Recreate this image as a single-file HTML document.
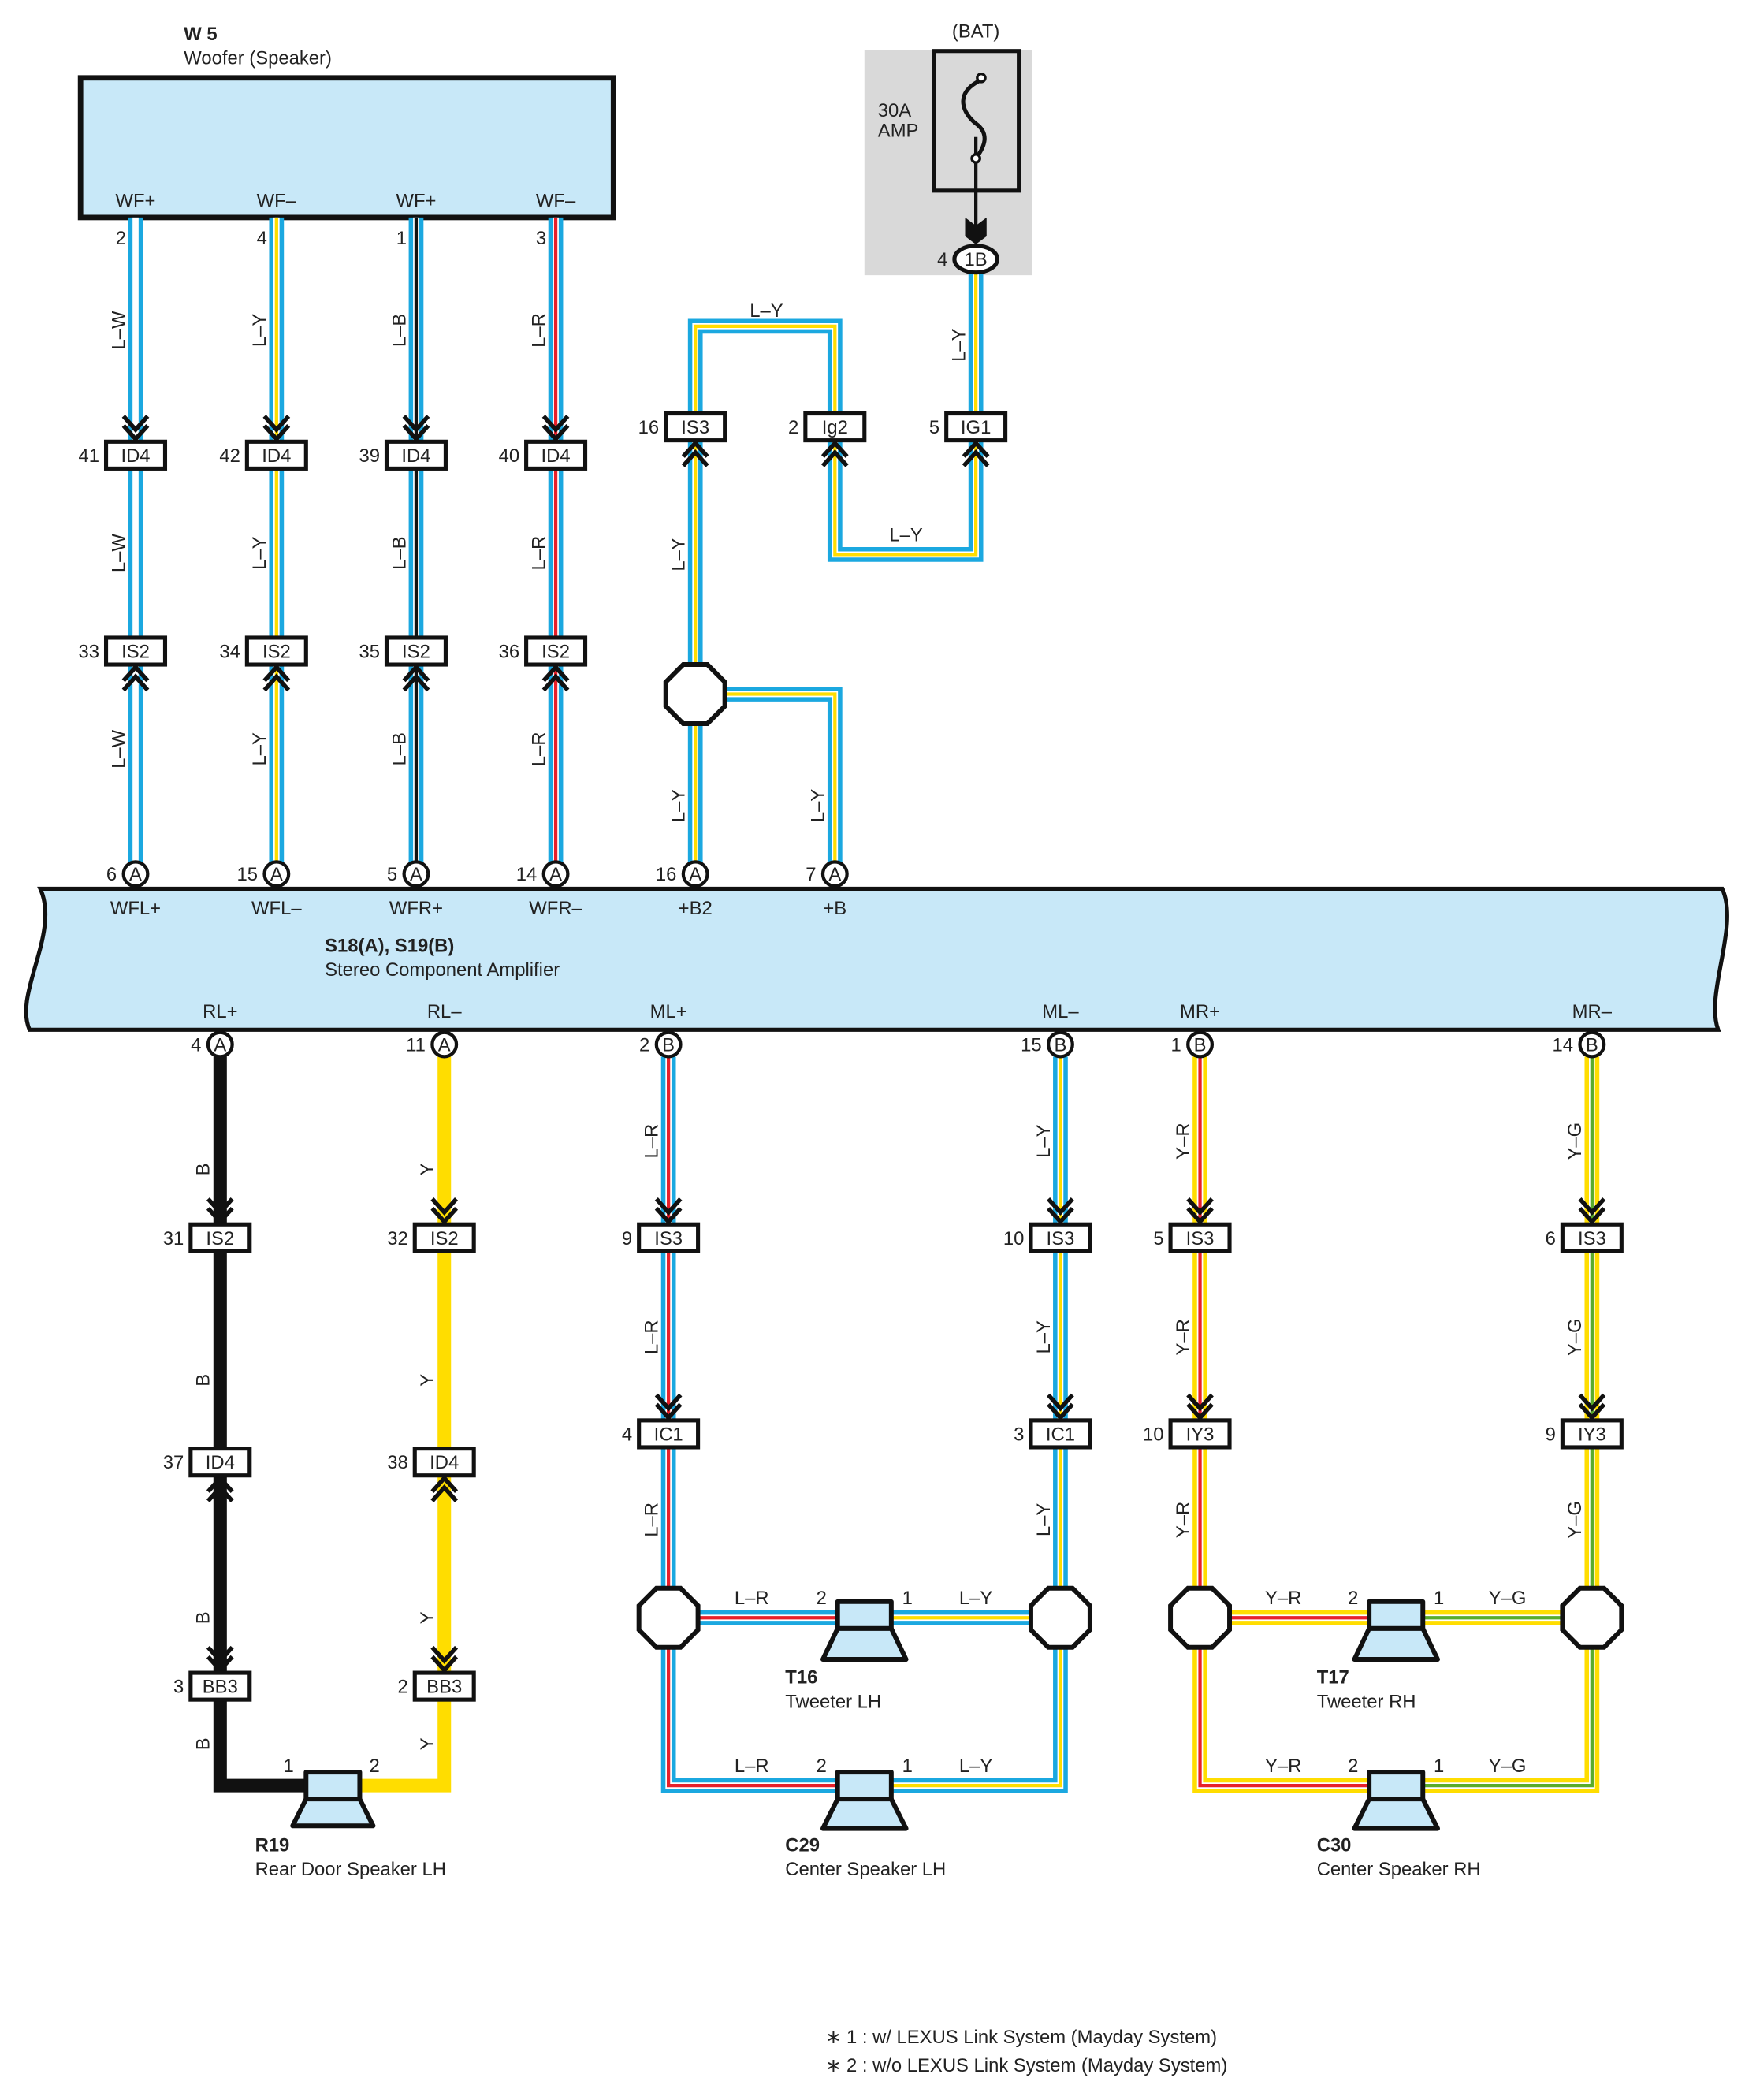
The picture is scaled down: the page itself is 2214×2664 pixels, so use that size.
<!DOCTYPE html>
<html><head><meta charset="utf-8"><style>
html,body{margin:0;padding:0;background:#fff}
svg{display:block}
text{font-family:"Liberation Sans",sans-serif;font-size:14px;fill:#222}
.o{fill:none;stroke:#1ba8e0;stroke-width:11;stroke-linejoin:miter}
.oy{fill:none;stroke:#ffdd00;stroke-width:11;stroke-linejoin:miter}
.w{fill:none;stroke:#fff;stroke-width:4.5;stroke-linejoin:miter}
.c{fill:none;stroke-width:2.5;stroke-linejoin:miter}
.bx{fill:#fff;stroke:#111;stroke-width:3}
.ch{fill:none;stroke:#111;stroke-width:3.2}
.oc{fill:#fff;stroke:#111;stroke-width:3.5}
.ci{fill:#fff;stroke:#111;stroke-width:2.5}
.sp{fill:#c8e8f8;stroke:#111;stroke-width:3.5;stroke-linejoin:round}
.m{text-anchor:middle}
.e{text-anchor:end}
.b{font-weight:bold}
</style></head><body>
<svg width="2214" height="2664" viewBox="0 0 1300 1564.2" preserveAspectRatio="none" xmlns="http://www.w3.org/2000/svg">
<defs>
<path id="dn" d="M-9,-17 L0,-7 L9,-17 M-9,-10 L0,0 L9,-10" class="ch"/>
<path id="up" d="M-9,17 L0,7 L9,17 M-9,10 L0,0 L9,10" class="ch"/>
<polygon id="oct" points="-9,-22 9,-22 22,-9 22,9 9,22 -9,22 -22,9 -22,-9" class="oc"/>
</defs>

<!-- Woofer -->
<text x="137" y="30" class="b">W 5</text>
<text x="137" y="48">Woofer (Speaker)</text>
<rect x="60" y="58" width="397" height="104" fill="#c8e8f8" stroke="#111" stroke-width="4"/>
<text x="101" y="154" class="m">WF+</text>
<text x="206" y="154" class="m">WF–</text>
<text x="310" y="154" class="m">WF+</text>
<text x="414" y="154" class="m">WF–</text>

<!-- BAT -->
<rect x="644" y="37" width="125" height="168" fill="#d9d9d9"/>
<text x="727" y="28" class="m">(BAT)</text>
<text x="654" y="87">30A</text>
<text x="654" y="102">AMP</text>
<rect x="696" y="38" width="63" height="104" fill="none" stroke="#111" stroke-width="3"/>
<path d="M727,102 V181" stroke="#111" stroke-width="2.5"/>
<path d="M730,60 C710,70 718,85 727,92 C738,100 733,110 727,118" fill="none" stroke="#111" stroke-width="3"/>
<circle cx="731" cy="58" r="3" fill="#fff" stroke="#111" stroke-width="2"/>
<circle cx="727" cy="118" r="3" fill="#fff" stroke="#111" stroke-width="2"/>
<path d="M719,162 L727,168 L735,162 L735,176 L727,182 L719,176 Z" fill="#111"/>

<!-- top wires -->
<g>
<path class="o" d="M101,162V651 M206,162V651 M310,162V651 M414,162V651"/>
<path class="w" d="M101,162V651 M206,162V651 M310,162V651 M414,162V651"/>
<path class="c" stroke="#ffdd00" d="M206,162V651"/>
<path class="c" stroke="#111" d="M310,162V651"/>
<path class="c" stroke="#e8202a" d="M414,162V651"/>
<path class="o" d="M727,200 V413 H622 V243 H518 V651 M518,517 H622 V651"/>
<path class="w" d="M727,200 V413 H622 V243 H518 V651 M518,517 H622 V651"/>
<path class="c" stroke="#ffdd00" d="M727,200 V413 H622 V243 H518 V651 M518,517 H622 V651"/>
</g>
<ellipse cx="727" cy="193" rx="16" ry="10" fill="#fff" stroke="#111" stroke-width="3"/>
<text x="727" y="198" class="m" font-size="13">1B</text>
<text x="706" y="198" class="e">4</text>

<!-- bottom wires -->
<path d="M164,787 V1330 H230" fill="none" stroke="#111" stroke-width="10"/>
<path d="M331,787 V1330 H262" fill="none" stroke="#ffdd00" stroke-width="10"/>
<path class="o" d="M498,787 V1330 H630 M498,1205 H630 M790,787 V1330 H660 M790,1205 H660"/>
<path class="oy" d="M894,787 V1330 H1030 M894,1205 H1030 M1186,787 V1330 H1050 M1186,1205 H1050"/>
<path class="w" d="M498,787 V1330 H630 M498,1205 H630 M790,787 V1330 H660 M790,1205 H660 M894,787 V1330 H1030 M894,1205 H1030 M1186,787 V1330 H1050 M1186,1205 H1050"/>
<path class="c" stroke="#e8202a" d="M498,787 V1330 H630 M498,1205 H630 M894,787 V1330 H1030 M894,1205 H1030"/>
<path class="c" stroke="#ffdd00" d="M790,787 V1330 H660 M790,1205 H660"/>
<path class="c" stroke="#5aac2a" d="M1186,787 V1330 H1050 M1186,1205 H1050"/>

<!-- Amplifier -->
<path d="M30,662 L1283,662 C1296,690 1270,740 1280,767 L22,767 C10,740 45,695 30,662 Z" fill="#c8e8f8" stroke="#111" stroke-width="3"/>
<text x="101" y="681" class="m">WFL+</text>
<text x="206" y="681" class="m">WFL–</text>
<text x="310" y="681" class="m">WFR+</text>
<text x="414" y="681" class="m">WFR–</text>
<text x="518" y="681" class="m">+B2</text>
<text x="622" y="681" class="m">+B</text>
<text x="242" y="709" class="b">S18(A), S19(B)</text>
<text x="242" y="727">Stereo Component Amplifier</text>
<text x="164" y="758" class="m">RL+</text>
<text x="331" y="758" class="m">RL–</text>
<text x="498" y="758" class="m">ML+</text>
<text x="790" y="758" class="m">ML–</text>
<text x="894" y="758" class="m">MR+</text>
<text x="1186" y="758" class="m">MR–</text>

<!-- amp connector circles -->
<g font-size="12">
<circle cx="101" cy="651" r="9" class="ci"/><text x="101" y="656" class="m" font-size="12">A</text><text x="87" y="656" class="e">6</text>
<circle cx="206" cy="651" r="9" class="ci"/><text x="206" y="656" class="m" font-size="12">A</text><text x="192" y="656" class="e">15</text>
<circle cx="310" cy="651" r="9" class="ci"/><text x="310" y="656" class="m" font-size="12">A</text><text x="296" y="656" class="e">5</text>
<circle cx="414" cy="651" r="9" class="ci"/><text x="414" y="656" class="m" font-size="12">A</text><text x="400" y="656" class="e">14</text>
<circle cx="518" cy="651" r="9" class="ci"/><text x="518" y="656" class="m" font-size="12">A</text><text x="504" y="656" class="e">16</text>
<circle cx="622" cy="651" r="9" class="ci"/><text x="622" y="656" class="m" font-size="12">A</text><text x="608" y="656" class="e">7</text>
<circle cx="164" cy="778" r="9" class="ci"/><text x="164" y="783" class="m" font-size="12">A</text><text x="150" y="783" class="e">4</text>
<circle cx="331" cy="778" r="9" class="ci"/><text x="331" y="783" class="m" font-size="12">A</text><text x="317" y="783" class="e">11</text>
<circle cx="498" cy="778" r="9" class="ci"/><text x="498" y="783" class="m" font-size="12">B</text><text x="484" y="783" class="e">2</text>
<circle cx="790" cy="778" r="9" class="ci"/><text x="790" y="783" class="m" font-size="12">B</text><text x="776" y="783" class="e">15</text>
<circle cx="894" cy="778" r="9" class="ci"/><text x="894" y="783" class="m" font-size="12">B</text><text x="880" y="783" class="e">1</text>
<circle cx="1186" cy="778" r="9" class="ci"/><text x="1186" y="783" class="m" font-size="12">B</text><text x="1172" y="783" class="e">14</text>
</g>

<!-- pin numbers at woofer -->
<text x="94" y="182" class="e">2</text>
<text x="199" y="182" class="e">4</text>
<text x="303" y="182" class="e">1</text>
<text x="407" y="182" class="e">3</text>

<!-- chevrons -->
<use href="#dn" x="101" y="327"/><use href="#dn" x="206" y="327"/><use href="#dn" x="310" y="327"/><use href="#dn" x="414" y="327"/>
<use href="#up" x="101" y="497"/><use href="#up" x="206" y="497"/><use href="#up" x="310" y="497"/><use href="#up" x="414" y="497"/>
<use href="#up" x="518" y="330"/><use href="#up" x="622" y="330"/><use href="#up" x="727" y="330"/>
<use href="#dn" x="164" y="910"/><use href="#dn" x="331" y="910"/><use href="#dn" x="498" y="910"/><use href="#dn" x="790" y="910"/><use href="#dn" x="894" y="910"/><use href="#dn" x="1186" y="910"/>
<use href="#up" x="164" y="1101"/><use href="#up" x="331" y="1101"/>
<use href="#dn" x="498" y="1056"/><use href="#dn" x="790" y="1056"/><use href="#dn" x="894" y="1056"/><use href="#dn" x="1186" y="1056"/>
<use href="#dn" x="164" y="1244"/><use href="#dn" x="331" y="1244"/>

<!-- connector boxes -->
<g>
<rect x="79" y="329" width="44" height="20" class="bx"/><text x="101" y="344" class="m">ID4</text><text x="74" y="344" class="e">41</text>
<rect x="184" y="329" width="44" height="20" class="bx"/><text x="206" y="344" class="m">ID4</text><text x="179" y="344" class="e">42</text>
<rect x="288" y="329" width="44" height="20" class="bx"/><text x="310" y="344" class="m">ID4</text><text x="283" y="344" class="e">39</text>
<rect x="392" y="329" width="44" height="20" class="bx"/><text x="414" y="344" class="m">ID4</text><text x="387" y="344" class="e">40</text>
<rect x="79" y="475" width="44" height="20" class="bx"/><text x="101" y="490" class="m">IS2</text><text x="74" y="490" class="e">33</text>
<rect x="184" y="475" width="44" height="20" class="bx"/><text x="206" y="490" class="m">IS2</text><text x="179" y="490" class="e">34</text>
<rect x="288" y="475" width="44" height="20" class="bx"/><text x="310" y="490" class="m">IS2</text><text x="283" y="490" class="e">35</text>
<rect x="392" y="475" width="44" height="20" class="bx"/><text x="414" y="490" class="m">IS2</text><text x="387" y="490" class="e">36</text>
<rect x="496" y="308" width="44" height="20" class="bx"/><text x="518" y="323" class="m">IS3</text><text x="491" y="323" class="e">16</text>
<rect x="600" y="308" width="44" height="20" class="bx"/><text x="622" y="323" class="m">Ig2</text><text x="595" y="323" class="e">2</text>
<rect x="705" y="308" width="44" height="20" class="bx"/><text x="727" y="323" class="m">IG1</text><text x="700" y="323" class="e">5</text>

<rect x="142" y="912" width="44" height="20" class="bx"/><text x="164" y="927" class="m">IS2</text><text x="137" y="927" class="e">31</text>
<rect x="309" y="912" width="44" height="20" class="bx"/><text x="331" y="927" class="m">IS2</text><text x="304" y="927" class="e">32</text>
<rect x="476" y="912" width="44" height="20" class="bx"/><text x="498" y="927" class="m">IS3</text><text x="471" y="927" class="e">9</text>
<rect x="768" y="912" width="44" height="20" class="bx"/><text x="790" y="927" class="m">IS3</text><text x="763" y="927" class="e">10</text>
<rect x="872" y="912" width="44" height="20" class="bx"/><text x="894" y="927" class="m">IS3</text><text x="867" y="927" class="e">5</text>
<rect x="1164" y="912" width="44" height="20" class="bx"/><text x="1186" y="927" class="m">IS3</text><text x="1159" y="927" class="e">6</text>
<rect x="476" y="1058" width="44" height="20" class="bx"/><text x="498" y="1073" class="m">IC1</text><text x="471" y="1073" class="e">4</text>
<rect x="768" y="1058" width="44" height="20" class="bx"/><text x="790" y="1073" class="m">IC1</text><text x="763" y="1073" class="e">3</text>
<rect x="872" y="1058" width="44" height="20" class="bx"/><text x="894" y="1073" class="m">IY3</text><text x="867" y="1073" class="e">10</text>
<rect x="1164" y="1058" width="44" height="20" class="bx"/><text x="1186" y="1073" class="m">IY3</text><text x="1159" y="1073" class="e">9</text>
<rect x="142" y="1079" width="44" height="20" class="bx"/><text x="164" y="1094" class="m">ID4</text><text x="137" y="1094" class="e">37</text>
<rect x="309" y="1079" width="44" height="20" class="bx"/><text x="331" y="1094" class="m">ID4</text><text x="304" y="1094" class="e">38</text>
<rect x="142" y="1246" width="44" height="20" class="bx"/><text x="164" y="1261" class="m">BB3</text><text x="137" y="1261" class="e">3</text>
<rect x="309" y="1246" width="44" height="20" class="bx"/><text x="331" y="1261" class="m">BB3</text><text x="304" y="1261" class="e">2</text>
</g>

<!-- octagons -->
<use href="#oct" x="518" y="517"/>
<use href="#oct" x="498" y="1205"/><use href="#oct" x="790" y="1205"/>
<use href="#oct" x="894" y="1205"/><use href="#oct" x="1186" y="1205"/>

<!-- rotated wire labels -->
<g>
<text class="m" transform="translate(93,246) rotate(-90)">L–W</text>
<text class="m" transform="translate(198,246) rotate(-90)">L–Y</text>
<text class="m" transform="translate(302,246) rotate(-90)">L–B</text>
<text class="m" transform="translate(406,246) rotate(-90)">L–R</text>
<text class="m" transform="translate(93,412) rotate(-90)">L–W</text>
<text class="m" transform="translate(198,412) rotate(-90)">L–Y</text>
<text class="m" transform="translate(302,412) rotate(-90)">L–B</text>
<text class="m" transform="translate(406,412) rotate(-90)">L–R</text>
<text class="m" transform="translate(93,558) rotate(-90)">L–W</text>
<text class="m" transform="translate(198,558) rotate(-90)">L–Y</text>
<text class="m" transform="translate(302,558) rotate(-90)">L–B</text>
<text class="m" transform="translate(406,558) rotate(-90)">L–R</text>
<text class="m" transform="translate(719,257) rotate(-90)">L–Y</text>
<text class="m" transform="translate(510,413) rotate(-90)">L–Y</text>
<text class="m" transform="translate(510,600) rotate(-90)">L–Y</text>
<text class="m" transform="translate(614,600) rotate(-90)">L–Y</text>
<text class="m" transform="translate(156,871) rotate(-90)">B</text>
<text class="m" transform="translate(323,871) rotate(-90)">Y</text>
<text class="m" transform="translate(490,850) rotate(-90)">L–R</text>
<text class="m" transform="translate(782,850) rotate(-90)">L–Y</text>
<text class="m" transform="translate(886,850) rotate(-90)">Y–R</text>
<text class="m" transform="translate(1178,850) rotate(-90)">Y–G</text>
<text class="m" transform="translate(156,1028) rotate(-90)">B</text>
<text class="m" transform="translate(323,1028) rotate(-90)">Y</text>
<text class="m" transform="translate(490,996) rotate(-90)">L–R</text>
<text class="m" transform="translate(782,996) rotate(-90)">L–Y</text>
<text class="m" transform="translate(886,996) rotate(-90)">Y–R</text>
<text class="m" transform="translate(1178,996) rotate(-90)">Y–G</text>
<text class="m" transform="translate(490,1132) rotate(-90)">L–R</text>
<text class="m" transform="translate(782,1132) rotate(-90)">L–Y</text>
<text class="m" transform="translate(886,1132) rotate(-90)">Y–R</text>
<text class="m" transform="translate(1178,1132) rotate(-90)">Y–G</text>
<text class="m" transform="translate(156,1205) rotate(-90)">B</text>
<text class="m" transform="translate(323,1205) rotate(-90)">Y</text>
<text class="m" transform="translate(156,1299) rotate(-90)">B</text>
<text class="m" transform="translate(323,1299) rotate(-90)">Y</text>
</g>
<text x="571" y="236" class="m">L–Y</text>
<text x="675" y="403" class="m">L–Y</text>

<!-- speakers -->
<g>
<rect x="228" y="1320" width="40" height="20" class="sp"/><polygon points="228,1340 268,1340 278,1360 218,1360" class="sp"/>
<text x="215" y="1320" class="m">1</text><text x="279" y="1320" class="m">2</text>
<text x="190" y="1379" class="b">R19</text><text x="190" y="1397">Rear Door Speaker LH</text>

<rect x="624" y="1193" width="40" height="20" class="sp"/><polygon points="624,1213 664,1213 675,1236 613,1236" class="sp"/>
<text x="560" y="1195" class="m">L–R</text><text x="612" y="1195" class="m">2</text><text x="676" y="1195" class="m">1</text><text x="727" y="1195" class="m">L–Y</text>
<text x="585" y="1254" class="b">T16</text><text x="585" y="1272">Tweeter LH</text>

<rect x="624" y="1320" width="40" height="20" class="sp"/><polygon points="624,1340 664,1340 675,1362 613,1362" class="sp"/>
<text x="560" y="1320" class="m">L–R</text><text x="612" y="1320" class="m">2</text><text x="676" y="1320" class="m">1</text><text x="727" y="1320" class="m">L–Y</text>
<text x="585" y="1379" class="b">C29</text><text x="585" y="1397">Center Speaker LH</text>

<rect x="1020" y="1193" width="40" height="20" class="sp"/><polygon points="1020,1213 1060,1213 1071,1236 1009,1236" class="sp"/>
<text x="956" y="1195" class="m">Y–R</text><text x="1008" y="1195" class="m">2</text><text x="1072" y="1195" class="m">1</text><text x="1123" y="1195" class="m">Y–G</text>
<text x="981" y="1254" class="b">T17</text><text x="981" y="1272">Tweeter RH</text>

<rect x="1020" y="1320" width="40" height="20" class="sp"/><polygon points="1020,1340 1060,1340 1071,1362 1009,1362" class="sp"/>
<text x="956" y="1320" class="m">Y–R</text><text x="1008" y="1320" class="m">2</text><text x="1072" y="1320" class="m">1</text><text x="1123" y="1320" class="m">Y–G</text>
<text x="981" y="1379" class="b">C30</text><text x="981" y="1397">Center Speaker RH</text>
</g>

<text x="615" y="1522">∗ 1 : w/ LEXUS Link System (Mayday System)</text>
<text x="615" y="1543">∗ 2 : w/o LEXUS Link System (Mayday System)</text>
</svg>
</body></html>
